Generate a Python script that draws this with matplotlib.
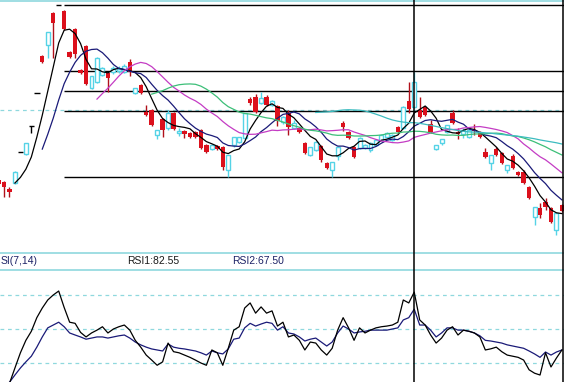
import matplotlib
matplotlib.use("Agg")
import matplotlib.pyplot as plt
import numpy as np
import pandas as pd

# daily bars, first two are before the visible window (needed for the MAs)
opens = [16.50, 16.25, 16.15, 15.80, 16.10, 17.65, 17.55, 18.95, 20.60, 22.45,
         23.00, 24.60, 25.00, 24.70, 22.65, 23.80, 21.75, 22.95, 20.85, 21.15,
         21.50, 21.60, 21.65, 21.70, 21.65, 22.15, 20.60, 21.00, 19.65, 19.75,
         18.50, 19.30, 18.85, 19.60, 18.60, 18.70, 18.60, 18.65, 18.75, 18.00,
         17.80, 17.95, 17.90, 16.75, 18.00, 18.15, 18.35, 20.30, 20.40, 20.10,
         20.40, 20.00, 19.95, 19.15, 19.60, 18.85, 18.85, 18.10, 17.50, 17.75,
         17.95, 17.10, 16.75, 17.45, 19.10, 18.65, 17.90, 17.85, 17.85, 17.75,
         18.00, 18.25, 18.40, 18.25, 18.90, 18.85, 20.20, 19.90, 19.75, 19.90,
         19.05, 17.80, 18.10, 18.65, 19.60, 18.65, 18.55, 18.40, 18.75, 18.65,
         17.65, 17.10, 17.80, 17.60, 16.75, 17.45, 16.65, 16.65, 15.90, 14.40,
         14.85, 15.15, 14.85, 13.75, 15.00]
highs = [16.60, 16.35, 16.20, 15.90, 16.70, 17.65, 18.10, 18.95, 20.60, 22.50,
         23.65, 24.65, 25.00, 24.75, 22.70, 23.85, 21.80, 23.00, 21.45, 22.40,
         21.90, 21.65, 21.95, 21.95, 22.05, 22.30, 20.85, 21.05, 20.00, 19.80,
         18.75, 19.35, 19.75, 19.65, 18.85, 18.75, 18.65, 18.70, 18.80, 18.05,
         18.05, 18.00, 17.95, 17.50, 18.40, 18.40, 19.60, 20.40, 20.55, 20.65,
         20.50, 20.25, 20.00, 19.45, 19.75, 19.25, 18.90, 18.15, 17.90, 18.20,
         18.00, 17.15, 17.15, 17.95, 19.20, 18.70, 17.95, 18.40, 18.05, 18.15,
         18.30, 18.55, 18.65, 18.55, 18.95, 19.95, 21.15, 21.65, 20.40, 19.95,
         19.25, 18.00, 18.30, 19.00, 19.75, 18.85, 18.85, 18.85, 19.05, 18.70,
         17.85, 17.50, 17.90, 17.65, 17.00, 17.55, 16.70, 16.75, 15.95, 14.90,
         15.10, 15.35, 14.90, 14.60, 15.05]
lows = [16.15, 15.85, 15.40, 15.40, 16.05, 17.65, 17.50, 18.60, 20.60, 22.10,
        22.35, 22.35, 25.00, 23.75, 22.35, 22.35, 21.55, 21.00, 20.80, 21.10,
        21.45, 20.65, 21.55, 21.60, 21.60, 21.45, 20.55, 20.55, 19.45, 18.95,
        18.30, 18.40, 18.75, 18.75, 18.45, 18.35, 18.35, 18.35, 17.80, 17.60,
        17.75, 17.75, 16.75, 16.40, 17.90, 18.10, 18.30, 20.00, 19.60, 20.05,
        19.95, 19.95, 18.95, 19.05, 18.50, 18.80, 18.60, 17.55, 17.45, 17.70,
        17.15, 16.80, 16.40, 17.25, 18.70, 18.30, 17.35, 17.80, 17.80, 17.65,
        17.95, 18.20, 18.35, 18.20, 18.60, 18.80, 19.60, 19.85, 19.35, 19.45,
        18.60, 17.75, 18.00, 18.60, 19.05, 18.30, 18.35, 18.35, 18.50, 18.35,
        17.35, 16.75, 17.45, 17.05, 16.60, 16.80, 16.45, 16.05, 15.30, 14.00,
        14.35, 14.75, 14.10, 13.50, 14.65]
closes = [16.25, 16.05, 15.90, 15.65, 16.65, 17.65, 18.10, 18.95, 20.60, 22.15,
          23.65, 24.10, 25.00, 23.80, 22.40, 22.55, 21.60, 21.05, 21.45, 22.35,
          21.85, 21.35, 21.85, 21.80, 21.95, 21.65, 20.85, 20.60, 19.50, 19.00,
          18.75, 18.75, 19.60, 18.80, 18.70, 18.55, 18.40, 18.40, 17.85, 17.65,
          18.00, 17.80, 16.90, 17.50, 18.40, 18.40, 19.60, 20.10, 19.65, 20.35,
          20.00, 20.20, 19.20, 19.40, 18.90, 19.10, 18.65, 17.60, 17.90, 18.15,
          17.25, 16.85, 17.15, 17.90, 18.90, 18.35, 17.40, 18.35, 18.00, 18.10,
          18.25, 18.50, 18.60, 18.50, 18.65, 19.90, 19.80, 21.15, 19.40, 19.50,
          18.65, 18.00, 18.30, 19.00, 19.10, 18.55, 18.75, 18.75, 18.70, 18.40,
          17.40, 17.50, 17.50, 17.10, 17.00, 16.85, 16.50, 16.10, 15.35, 14.90,
          14.50, 14.90, 14.15, 14.60, 14.70]

# RSI values for the visible bars
rsi1 = [0, 2, 15.6, 29, 40, 48, 60, 68.5, 75.6, 80,
        83.5, 69, 56, 55, 47, 43, 46.5, 49, 52, 46.5,
        50, 52, 53.5, 49, 40, 34, 27, 22.6, 18, 21,
        37.6, 30, 29, 27, 25, 22.6, 20, 18, 31.5, 29,
        18, 33, 49, 52, 68.5, 73, 64, 69.5, 64, 66,
        52.6, 56, 43, 44.7, 40, 31.5, 38.5, 37.6, 31.5, 27,
        33, 49, 60, 51, 40, 51, 46.5, 49, 51, 52,
        52.6, 53.5, 56, 75.6, 73, 82.55, 58, 53.5, 44.7, 37.6,
        42, 49, 52, 44.7, 49, 48, 46.5, 43, 31.5, 32.5,
        34, 30, 27, 26, 25, 22.6, 14, 11, 9.4, 29,
        16.5, 24.4, 31.5]
rsi2 = [0, 3, 9.4, 15.6, 21, 26, 34, 43, 51, 53.5,
        56, 52, 46.5, 44.7, 43, 41, 42, 43, 43, 42,
        43, 44, 44.7, 42, 38.5, 36, 34, 32.4, 31.5, 30.6,
        36.8, 34, 33, 32.4, 31.5, 30.6, 29, 27, 30.6, 29,
        28, 32.4, 41, 42, 51, 55, 52.6, 54.4, 56, 55,
        49, 52, 46.5, 45.6, 43, 39.4, 41, 42, 38.5, 35,
        38.5, 46.5, 52.6, 50, 46.5, 47.4, 48, 49, 49, 49,
        49, 50, 51, 58, 60, 67.5, 53.5, 53.5, 49, 43,
        46.5, 51, 51, 49, 49, 48, 46.5, 44, 40, 39.4,
        38.5, 37.6, 36, 35, 34, 33, 30.6, 28, 25, 29.7,
        27, 29.7, 31.5]

ma_periods = [5, 10, 20, 30, 60]
ma_colors = ['#000000', '#1a1a78', '#c43cc4', '#3cbf78', '#3cbcc0']
fib_hi, fib_lo = 25.00, 16.40
fib_ratios = [0, 0.382, 0.5, 0.618, 1.0]
cross_bar = 75

red = '#dc101c'
cyan = '#55d3e6'
line_cyan = '#8fd8de'

x = np.arange(len(closes)) - 2
xl = (-0.73, 102.38)

fig = plt.figure(figsize=(5.64, 3.82), dpi=100)
ax = fig.add_axes([0, 1 - 252 / 382, 1, 252 / 382])
band = fig.add_axes([0, 111 / 382, 1, 19 / 382])
rax = fig.add_axes([0, 0, 1, 111 / 382])
for a in (ax, band, rax):
    a.set_xlim(*xl)
    a.axis('off')

ax.set_ylim(12.65, 25.25)
ax.axhline(19.75, color=line_cyan, lw=0.9, ls=(0, (3, 3)), zorder=1)
ax.axhline(25.22, color=line_cyan, lw=1.2, zorder=1)
for r in fib_ratios:
    ax.hlines(fib_hi - r * (fib_hi - fib_lo), 11, xl[1], color='black', lw=1.0, zorder=2)

# candles
w = 0.8
for xi, o, h, l, c in zip(x, opens, highs, lows, closes):
    if c > o:
        ax.vlines(xi, c, h, color=cyan, lw=1.0, zorder=3)
        ax.vlines(xi, l, o, color=cyan, lw=1.0, zorder=3)
        ax.bar(xi, c - o, bottom=o, width=w * 0.9, facecolor='white', edgecolor=cyan,
               linewidth=1.0, zorder=4)
    elif c < o:
        ax.vlines(xi, l, h, color='#b0101a', lw=1.0, zorder=3)
        ax.bar(xi, c - o, bottom=o, width=w, color=red, linewidth=0, zorder=4)
    else:
        ax.vlines(xi, l, h, color='black', lw=1.0, zorder=3)
        ax.hlines(c, xi - 0.5, xi + 0.5, color='black', lw=1.0, zorder=4)

s = pd.Series(closes)
for p, col in zip(ma_periods, ma_colors):
    ax.plot(x, s.rolling(p).mean(), color=col, lw=0.9, zorder=5)

# text band
band.set_ylim(0, 1)
band.axhline(0.97, color=line_cyan, lw=1.2, clip_on=False)
band.axhline(0.03, color=line_cyan, lw=1.2, clip_on=False)
font = dict(family='Liberation Sans', fontsize=7.5, va='center')
band.text(-0.68, 0.5, 'SI(7,14)', color='#1c2266', **font)
band.text(22.5, 0.5, 'RSI1:82.55', color='#1a1a1a', **font)
band.text(41.7, 0.5, 'RSI2:67.50', color='#1c2266', **font)

# RSI panel
rax.set_ylim(3.24, 101.18)
for lvl in (80, 50, 20):
    rax.axhline(lvl, color=line_cyan, lw=0.9, ls=(0, (3, 3)))
xr = np.arange(len(rsi1))
rax.plot(xr, rsi2, color='#1a1a78', lw=0.9)
rax.plot(xr, rsi1, color='black', lw=0.9)

for a in (ax, band, rax):
    a.axvline(cross_bar, color='black', lw=1.1, zorder=10)
    a.axvline(102.2, color='black', lw=1.1, zorder=10)

fig.savefig('out.png', dpi=100, facecolor='white')
